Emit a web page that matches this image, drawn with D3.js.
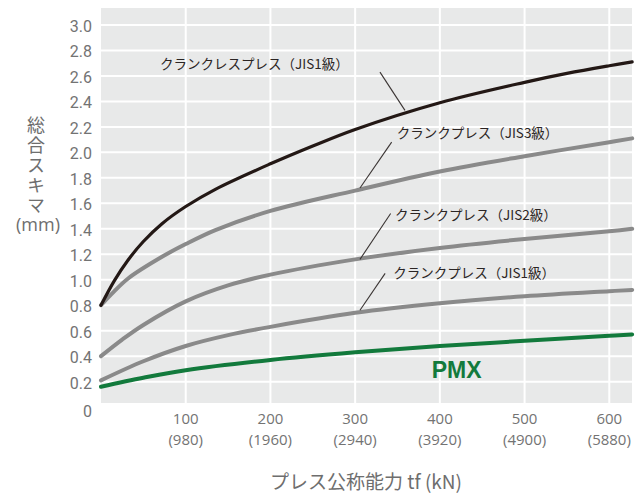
<!DOCTYPE html>
<html>
<head>
<meta charset="utf-8">
<script src="https://cdn.jsdelivr.net/npm/d3@7"></script>
<style>
  body { margin: 0; background: #ffffff; }
  svg { display: block; }
</style>
</head>
<body>
<div id="chart"></div>
<script>
// press capacity (tf) and total clearance (mm)
var xTicks = [100, 200, 300, 400, 500, 600];
var xTickKN = ["(980)", "(1960)", "(2940)", "(3920)", "(4900)", "(5880)"];
var yTicks = [0, 0.2, 0.4, 0.6, 0.8, 1.0, 1.2, 1.4, 1.6, 1.8, 2.0, 2.2, 2.4, 2.6, 2.8, 3.0];

var crankless = [[0, 0.80], [16, 0.995], [32, 1.155], [50, 1.30], [72, 1.44], [100, 1.575], [135, 1.71], [200, 1.91], [250, 2.05], [300, 2.18], [400, 2.39], [500, 2.55], [550, 2.62], [600, 2.68], [627, 2.71]];
var jis3 = [[0, 0.80], [15, 0.905], [32, 1.01], [72, 1.18], [100, 1.28], [135, 1.39], [200, 1.54], [300, 1.70], [400, 1.85], [500, 1.97], [600, 2.08], [627, 2.11]];
var jis2 = [[0, 0.40], [25, 0.53], [50, 0.645], [100, 0.83], [150, 0.955], [200, 1.04], [300, 1.16], [400, 1.25], [500, 1.32], [600, 1.38], [627, 1.40]];
var jis1 = [[0, 0.21], [50, 0.36], [100, 0.48], [150, 0.565], [200, 0.63], [300, 0.74], [400, 0.815], [500, 0.87], [600, 0.91], [627, 0.92]];
var pmx = [[0, 0.16], [50, 0.23], [100, 0.29], [200, 0.37], [300, 0.43], [400, 0.48], [500, 0.52], [600, 0.56], [627, 0.57]];

var labelTexts = ["クランクレスプレス（JIS1級）", "クランクプレス（JIS3級）", "クランクプレス（JIS2級）", "クランクプレス（JIS1級）"];
// label anchor [tf, mm] and leader line [tf1, mm1, tf2, mm2]
var labelAt = [[69.6, 2.70], [349, 2.16], [347, 1.52], [345, 1.06]];
var leaders = [[329.3, 2.63, 358.8, 2.33], [343.1, 2.08, 305.7, 1.72], [341.9, 1.52, 305.7, 1.16], [335.4, 1.05, 305.7, 0.76]];

var width = 636, height = 495;
var plot = {left: 101, right: 632, top: 8, bottom: 403};

var x = d3.scaleLinear().domain([0, 600]).range([101, 609.3]);
var y = d3.scaleLinear().domain([0, 3]).range([407.1, 25]);

var svg = d3.select('#chart').append('svg')
    .attr('width', width).attr('height', height);

svg.append('rect')
    .attr('x', plot.left).attr('y', plot.top)
    .attr('width', plot.right - plot.left).attr('height', plot.bottom - plot.top)
    .style('fill', '#e8e9e9');

// grid
svg.append('g').selectAll('line').data(yTicks.filter(function(d) { return d > 0; })).enter()
    .append('line')
    .attr('x1', plot.left).attr('x2', plot.right)
    .attr('y1', function(d) { return y(d); }).attr('y2', function(d) { return y(d); })
    .style('stroke', '#ffffff').style('stroke-width', 2);
svg.append('g').selectAll('line').data(xTicks).enter()
    .append('line')
    .attr('x1', function(d) { return x(d); }).attr('x2', function(d) { return x(d); })
    .attr('y1', plot.top).attr('y2', plot.bottom)
    .style('stroke', '#ffffff').style('stroke-width', 2);

// y tick labels
svg.append('g').selectAll('text').data(yTicks).enter()
    .append('text')
    .attr('x', 92)
    .attr('y', function(d) { return d === 0 ? y(d) + 4 : y(d) + 1.5; })
    .attr('text-anchor', 'end')
    .attr('dominant-baseline', 'central')
    .style('font-family', '"Liberation Sans Narrow", "Roboto", sans-serif')
    .style('font-size', '16px')
    .style('fill', '#737373')
    .text(function(d) { return d === 0 ? '0' : d.toFixed(1); });

// x tick labels, two lines
var xl = svg.append('g').selectAll('g').data(xTicks).enter().append('g');
xl.append('text')
    .attr('x', function(d) { return x(d); }).attr('y', 424)
    .attr('text-anchor', 'middle')
    .style('font-family', '"Open Sans", sans-serif')
    .style('font-size', '15px')
    .style('fill', '#737373')
    .text(function(d) { return d; });
xl.append('text')
    .attr('x', function(d) { return x(d); }).attr('y', 444.5)
    .attr('text-anchor', 'middle')
    .style('font-family', '"Open Sans", sans-serif')
    .style('font-size', '15px')
    .style('fill', '#737373')
    .text(function(d, i) { return xTickKN[i]; });

// axis titles
svg.append('text')
    .attr('x', 366).attr('y', 489)
    .attr('text-anchor', 'middle')
    .style('font-family', '"Noto Sans CJK JP", sans-serif')
    .style('font-size', '19px')
    .style('fill', '#6e6e6e')
    .text('プレス公称能力 tf (kN)');

svg.append('text')
    .attr('x', 36).attr('y', 116)
    .style('writing-mode', 'vertical-rl')
    .style('text-orientation', 'upright')
    .style('letter-spacing', '2px')
    .style('font-family', '"Noto Sans CJK JP", sans-serif')
    .style('font-size', '18px')
    .style('fill', '#6e6e6e')
    .text('総合スキマ');
svg.append('text')
    .attr('x', 38).attr('y', 231)
    .attr('text-anchor', 'middle')
    .style('font-family', '"Open Sans", sans-serif')
    .style('font-size', '18px')
    .style('fill', '#6e6e6e')
    .text('(mm)');

// curves
var line = d3.line()
    .x(function(d) { return x(d[0]); })
    .y(function(d) { return y(d[1]); })
    .curve(d3.curveCatmullRom.alpha(0.5));

var curves = [
    {data: jis1, color: '#8a8a8a', w: 4},
    {data: jis2, color: '#8a8a8a', w: 4},
    {data: jis3, color: '#8a8a8a', w: 4},
    {data: crankless, color: '#231815', w: 3.2},
    {data: pmx, color: '#127a3c', w: 4}
];
svg.append('g').selectAll('path').data(curves).enter()
    .append('path')
    .attr('d', function(d) { return line(d.data); })
    .style('fill', 'none')
    .style('stroke', function(d) { return d.color; })
    .style('stroke-width', function(d) { return d.w; })
    .style('stroke-linecap', 'round');

// leader lines and labels
svg.append('g').selectAll('line').data(leaders).enter()
    .append('line')
    .attr('x1', function(d) { return x(d[0]); }).attr('y1', function(d) { return y(d[1]); })
    .attr('x2', function(d) { return x(d[2]); }).attr('y2', function(d) { return y(d[3]); })
    .style('stroke', '#3a3433').style('stroke-width', 1.1);

svg.append('g').selectAll('text').data(labelTexts).enter()
    .append('text')
    .attr('x', function(d, i) { return x(labelAt[i][0]); })
    .attr('y', function(d, i) { return y(labelAt[i][1]); })
    .attr('dominant-baseline', 'central')
    .style('font-family', '"Noto Sans CJK JP", sans-serif')
    .style('font-size', '13.5px')
    .style('fill', '#2b2524')
    .text(function(d) { return d; });

svg.append('text')
    .attr('x', x(390.3)).attr('y', y(0.29))
    .attr('dominant-baseline', 'central')
    .style('font-family', '"Liberation Sans", Arial, sans-serif')
    .style('font-weight', 'bold')
    .style('font-size', '23px')
    .style('fill', '#127a3c')
    .text('PMX');
</script>
</body>
</html>
